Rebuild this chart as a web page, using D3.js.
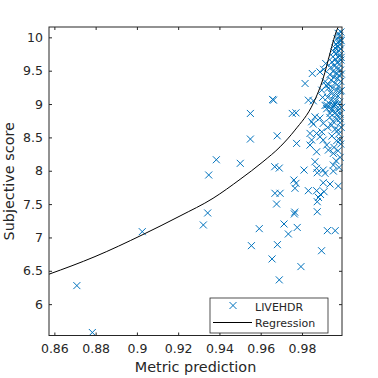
<!DOCTYPE html>
<html><head><meta charset="utf-8">
<script src="https://cdn.jsdelivr.net/npm/d3@7"></script>
<style>
body{margin:0;background:#fff}
text{font-family:"DejaVu Sans",sans-serif;fill:#262626}
</style>
</head><body>
<svg id="c" width="378" height="378"></svg>
<script>
// ---- data ----
const xTicks = [0.86, 0.88, 0.9, 0.92, 0.94, 0.96, 0.98];
const xTickLabels = ["0.86", "0.88", "0.9", "0.92", "0.94", "0.96", "0.98"];
const yTicks = [6, 6.5, 7, 7.5, 8, 8.5, 9, 9.5, 10];
const yTickLabels = ["6", "6.5", "7", "7.5", "8", "8.5", "9", "9.5", "10"];
const xDomain = [0.8574, 0.9994];
const yDomain = [5.53, 10.155];

const seriesName = "LIVEHDR";
const curveName = "Regression";
const xLabel = "Metric prediction";
const yLabel = "Subjective score";

// scatter: metric prediction
const metric = [
 0.8709,0.8784,0.9026,0.9322,0.9343,0.9348,0.9385,0.9501,0.9550,0.9550,
 0.9658,0.9662,0.9680,0.9668,0.9690,0.9669,0.9694,0.9677,0.9593,0.9555,
 0.9681,0.9655,0.9690,0.9713,0.9734,0.9777,0.9795,0.9895,0.9923,0.9961,
 0.9763,0.9765,0.9874,0.9874,0.9766,0.9771,0.9761,0.9831,0.9871,0.9890,
 0.9907,0.9880,0.9810,0.9874,0.9912,0.9952,0.9903,0.9936,0.9976,0.9771,
 0.9855,0.9920,0.9952,0.9976,0.9936,0.9968,0.9960,0.9945,0.9985,0.9855,
 0.9903,0.9944,0.9896,0.9839,0.9774,0.9871,0.9887,0.9847,0.9903,0.9839,
 0.9920,0.9928,0.9952,0.9871,0.9863,0.9871,0.9903,0.9952,0.9984,0.9976,
 0.9847,0.9753,0.9915,0.9887,0.9850,0.9815,0.9831,0.9896,0.9863,0.9887,
 0.9912,0.9928,0.9905,0.9918,0.9900,0.9912,
 0.9975,0.9982,0.9970,0.9986,0.9978,0.9965,0.9984,0.9972,0.9960,0.9988,
 0.9979,0.9955,0.9968,0.9985,0.9950,0.9976,0.9962,0.9989,0.9945,0.9970,
 0.9982,0.9957,0.9940,0.9975,0.9987,0.9950,0.9965,0.9935,0.9980,0.9955,
 0.9972,0.9942,0.9988,0.9960,0.9930,0.9978,0.9948,0.9968,0.9985,0.9938,
 0.9957,0.9975,0.9925,0.9945,0.9965,0.9983,0.9935,0.9955,0.9975,0.9920,
 0.9945,0.9962,0.9985,0.9935,0.9970,0.9950,0.9985,0.9925,0.9960,0.9978,
 0.9945,0.9968,0.9988,0.9955,0.9975,0.9985,0.9965,0.9980,0.9990,0.9990,
 0.9991,0.9990,0.9991,0.9990,0.9989
];
// scatter: subjective score
const score = [
 6.278,5.575,7.087,7.187,7.367,7.936,8.165,8.111,8.859,8.475,
 9.069,9.058,8.524,8.060,8.040,7.662,7.662,7.501,7.132,6.877,
 6.892,6.678,6.364,7.202,7.052,7.150,6.563,6.801,7.102,7.102,
 7.352,7.380,7.386,7.536,7.737,7.811,7.861,7.701,7.701,7.644,
 7.686,7.600,8.010,7.970,7.961,7.995,7.820,7.801,7.771,8.868,
 9.048,8.984,8.984,8.909,8.859,8.834,9.000,8.930,8.780,8.699,
 8.710,8.684,8.584,8.560,8.410,8.560,8.509,8.460,8.460,8.385,
 8.385,8.310,8.260,8.284,8.135,8.036,8.010,8.085,8.460,8.609,
 8.734,8.859,9.608,9.482,9.458,9.308,9.058,9.208,8.808,8.789,
 9.338,9.238,9.520,9.280,9.100,8.980,
 10.06,10.02,9.98,9.96,9.93,9.90,9.89,9.86,9.84,9.83,
 9.80,9.78,9.76,9.74,9.71,9.70,9.67,9.66,9.63,9.62,
 9.60,9.57,9.55,9.53,9.51,9.49,9.46,9.44,9.43,9.40,
 9.38,9.36,9.34,9.31,9.29,9.27,9.24,9.21,9.19,9.17,
 9.14,9.12,9.10,9.07,9.05,9.03,9.00,8.97,8.95,8.93,
 8.90,8.87,8.85,8.80,8.77,8.74,8.72,8.65,8.62,8.55,
 8.52,8.45,8.40,8.35,8.30,8.20,8.15,8.05,9.95,9.70,
 9.45,9.20,8.95,8.65,10.08
];
// regression curve
const regX = [0.8574,0.8797,0.9025,0.9209,0.9369,0.9500,0.9611,0.9694,0.9766,0.9855,0.9903,0.9936,0.9960,0.99745];
const regY = [6.449,6.713,7.037,7.322,7.587,7.871,8.135,8.359,8.609,9.013,9.388,9.762,10.031,10.151];

// ---- drawing ----
const L = 49, T = 27, R = 342, B = 335.5;
const svg = d3.select("#c");
const x = d3.scaleLinear().domain(xDomain).range([L, R]);
const y = d3.scaleLinear().domain(yDomain).range([B, T]);
const blue = "#0072BD", ink = "#262626";

svg.append("defs").append("clipPath").attr("id","clip")
  .append("rect").attr("x",L).attr("y",T).attr("width",R-L).attr("height",B-T);

// scatter
const pts = metric.map((m,i)=>({m, s:score[i]}));
svg.append("g").selectAll("path").data(pts).join("path")
  .attr("transform", d=>`translate(${x(d.m)},${y(d.s)})`)
  .attr("d","M-3.5,-3.5L3.5,3.5M-3.5,3.5L3.5,-3.5")
  .attr("stroke", blue).attr("stroke-width",1).attr("fill","none");

// regression
const reg = regX.map((v,i)=>[v, regY[i]]);
svg.append("path").datum(reg)
  .attr("clip-path","url(#clip)")
  .attr("d", d3.line().x(d=>x(d[0])).y(d=>y(d[1])).curve(d3.curveMonotoneX))
  .attr("fill","none").attr("stroke","#000").attr("stroke-width",1);

// axes
function styleAxis(g){
  g.select(".domain").remove();
  g.selectAll("line").attr("stroke", ink);
  g.selectAll("text").attr("fill", ink).style("font-family","DejaVu Sans").style("font-size","12.5px");
}
svg.append("g").attr("transform",`translate(0,${B})`)
  .call(d3.axisBottom(x).tickValues(xTicks).tickFormat((d,i)=>xTickLabels[i]).tickSizeInner(-3).tickSizeOuter(0).tickPadding(9))
  .call(styleAxis);
svg.append("g").attr("transform",`translate(0,${T})`)
  .call(d3.axisTop(x).tickValues(xTicks).tickFormat("").tickSizeInner(-3).tickSizeOuter(0))
  .call(styleAxis);
svg.append("g").attr("transform",`translate(${L},0)`)
  .call(d3.axisLeft(y).tickValues(yTicks).tickFormat((d,i)=>yTickLabels[i]).tickSizeInner(-3).tickSizeOuter(0).tickPadding(6))
  .call(styleAxis);
svg.append("g").attr("transform",`translate(${R},0)`)
  .call(d3.axisRight(y).tickValues(yTicks).tickFormat("").tickSizeInner(-3).tickSizeOuter(0))
  .call(styleAxis);

svg.append("rect").attr("x",L).attr("y",T).attr("width",R-L).attr("height",B-T)
  .attr("fill","none").attr("stroke",ink).attr("stroke-width",1);

// axis labels
svg.append("text").attr("x",(L+R)/2).attr("y",372).attr("text-anchor","middle")
  .style("font-size","14.4px").text(xLabel);
svg.append("text").attr("transform",`translate(14,${(T+B)/2}) rotate(-90)`).attr("text-anchor","middle")
  .style("font-size","14.4px").text(yLabel);

// legend
const lg = svg.append("g");
lg.append("rect").attr("x",210).attr("y",298).attr("width",118).attr("height",35)
  .attr("fill","#fff").attr("stroke",ink).attr("stroke-width",0.8);
lg.append("path").attr("transform","translate(233,305.5)")
  .attr("d","M-3.5,-3.5L3.5,3.5M-3.5,3.5L3.5,-3.5")
  .attr("stroke",blue).attr("stroke-width",1).attr("fill","none");
lg.append("text").attr("x",255).attr("y",310.5).style("font-size","11px").text(seriesName);
lg.append("line").attr("x1",213).attr("x2",252).attr("y1",322.5).attr("y2",322.5)
  .attr("stroke","#000").attr("stroke-width",1);
lg.append("text").attr("x",255).attr("y",326.5).style("font-size","11px").text(curveName);
</script>
</body></html>
